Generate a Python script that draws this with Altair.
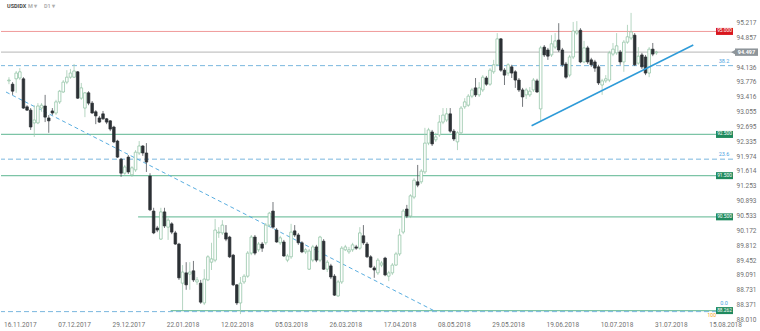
import altair as alt
import pandas as pd

# ---------------- data (USDIDX, D1) ----------------
opens = [
    93.80, 93.72, 93.85, 93.87, 93.85, 93.17, 93.09, 92.78, 92.78, 93.14,
    93.19, 92.90, 93.07, 93.02, 93.29, 93.53, 93.77, 93.89, 93.89, 94.02,
    93.38, 93.14, 93.51, 93.26, 93.05, 92.90, 93.00, 92.88, 92.83, 92.68,
    92.34, 91.90, 91.56, 91.95, 91.52, 91.64, 92.05, 92.22, 92.05, 91.49,
    90.64, 90.23, 89.96, 90.62, 90.25, 90.33, 90.11, 89.84, 88.89, 89.14,
    89.11, 89.19, 88.92, 88.89, 88.41, 88.97, 89.40, 89.45, 90.11, 90.11,
    90.11, 90.01, 89.57, 88.85, 88.41, 88.92, 89.06, 89.62, 90.01, 89.70,
    89.84, 89.87, 90.30, 90.64, 90.18, 89.87, 89.89, 89.45, 89.53, 90.16,
    90.06, 89.87, 89.65, 89.23, 89.45, 89.77, 89.45, 89.91, 89.23, 89.31,
    89.06, 88.58, 88.92, 89.70, 89.65, 89.70, 89.77, 89.74, 90.04, 89.84,
    89.53, 89.26, 89.14, 89.33, 89.50, 89.06, 89.14, 89.33, 89.60, 90.13,
    90.69, 90.52, 90.98, 91.35, 91.35, 91.59, 92.29, 92.56, 92.37, 92.49,
    92.80, 92.85, 93.00, 92.58, 92.32, 92.54, 93.17, 93.21, 93.43, 93.63,
    93.46, 93.58, 93.87, 93.72, 94.02, 94.19, 94.82, 94.06, 93.99, 94.14,
    94.02, 93.82, 93.58, 93.46, 93.46, 93.58, 93.80, 93.12, 94.62, 94.55,
    94.43, 94.62, 94.79, 94.55, 94.21, 93.94, 94.38, 94.96, 95.03, 94.26,
    94.60, 94.31, 94.26, 94.14, 93.70, 93.80, 93.82, 94.45, 94.48, 94.50,
    94.26, 94.74, 94.84, 94.91, 94.23, 94.43, 94.38, 93.99, 94.57, 94.48,
]
highs = [
    93.89, 93.77, 94.04, 94.11, 93.89, 93.21, 93.14, 93.21, 93.26, 93.26,
    93.46, 92.97, 93.14, 93.34, 93.58, 93.82, 94.06, 94.09, 94.21, 94.04,
    93.75, 93.53, 93.55, 93.31, 93.09, 92.95, 93.07, 92.90, 92.85, 92.71,
    92.37, 91.93, 91.76, 92.00, 91.73, 92.12, 92.34, 92.24, 92.29, 91.56,
    90.72, 90.28, 90.72, 90.72, 90.47, 90.37, 90.16, 89.87, 89.33, 89.40,
    89.40, 89.43, 89.04, 88.97, 89.23, 89.57, 89.87, 90.45, 90.25, 90.42,
    90.30, 90.04, 89.60, 88.87, 89.04, 89.11, 89.67, 90.06, 90.06, 89.89,
    89.89, 90.35, 90.62, 90.86, 90.23, 90.04, 89.94, 89.60, 90.33, 90.30,
    90.11, 89.91, 89.74, 89.72, 89.82, 89.82, 90.04, 89.96, 89.45, 89.36,
    89.11, 88.97, 89.79, 89.82, 89.77, 89.87, 89.82, 90.25, 90.30, 89.89,
    89.57, 89.31, 89.50, 89.43, 89.53, 89.19, 89.38, 89.65, 90.21, 90.69,
    90.79, 91.05, 91.44, 91.76, 91.66, 92.66, 92.66, 92.61, 92.54, 92.97,
    93.14, 93.14, 93.14, 92.63, 92.58, 93.19, 93.38, 93.48, 93.63, 93.87,
    93.77, 93.94, 93.92, 94.11, 94.31, 94.96, 94.84, 94.11, 94.23, 94.19,
    94.06, 93.87, 93.63, 93.63, 93.65, 93.87, 93.85, 94.65, 94.67, 94.60,
    94.91, 94.96, 95.20, 94.60, 94.26, 94.43, 95.23, 95.25, 95.08, 94.77,
    94.65, 94.36, 94.31, 94.19, 93.85, 93.94, 94.53, 94.72, 94.96, 94.55,
    94.79, 95.16, 95.45, 94.96, 94.62, 94.48, 94.43, 94.62, 94.72, 94.53,
]
lows = [
    93.72, 93.46, 93.51, 93.82, 93.12, 93.07, 92.61, 92.44, 92.75, 93.05,
    92.80, 92.54, 92.97, 92.97, 93.24, 93.51, 93.72, 93.85, 93.87, 93.36,
    93.34, 92.92, 93.21, 93.00, 92.75, 92.78, 92.85, 92.75, 92.58, 92.29,
    91.93, 91.47, 91.52, 91.54, 91.47, 91.59, 92.00, 91.98, 91.59, 90.64,
    90.08, 90.13, 89.94, 90.23, 89.94, 90.08, 89.82, 88.97, 88.24, 88.73,
    88.73, 88.92, 88.85, 88.39, 88.36, 88.94, 89.21, 89.40, 89.99, 90.06,
    89.91, 89.50, 88.82, 88.36, 88.14, 88.87, 89.02, 89.57, 89.57, 89.65,
    89.65, 89.82, 90.25, 90.21, 89.87, 89.82, 89.53, 89.40, 89.48, 90.01,
    89.82, 89.62, 89.60, 89.21, 89.40, 89.40, 89.40, 89.21, 89.16, 88.99,
    88.58, 88.56, 88.87, 89.67, 89.60, 89.65, 89.70, 89.70, 89.82, 89.50,
    89.26, 89.02, 89.09, 89.28, 89.06, 88.94, 89.09, 89.31, 89.55, 90.08,
    90.47, 90.47, 90.93, 91.22, 91.30, 91.54, 92.24, 92.22, 92.32, 92.44,
    92.75, 92.80, 92.54, 92.34, 92.12, 92.49, 93.12, 93.17, 93.38, 93.41,
    93.41, 93.53, 93.68, 93.68, 93.97, 94.16, 94.02, 93.70, 93.92, 93.87,
    93.63, 93.53, 93.17, 93.36, 93.41, 93.53, 93.51, 92.80, 94.38, 94.31,
    94.38, 94.57, 94.50, 94.14, 93.85, 93.89, 94.33, 94.91, 94.23, 94.23,
    94.21, 94.14, 94.02, 93.70, 93.46, 93.75, 93.77, 94.40, 94.43, 94.19,
    94.02, 94.70, 94.79, 94.16, 94.19, 94.09, 93.94, 93.89, 94.40, 94.43,
]
closes = [
    93.82, 93.55, 93.99, 94.02, 93.14, 93.09, 92.68, 92.85, 93.19, 93.21,
    92.92, 92.83, 93.02, 93.29, 93.55, 93.77, 93.89, 93.99, 94.04, 93.38,
    93.63, 93.51, 93.26, 93.02, 92.95, 92.80, 92.88, 92.80, 92.63, 92.32,
    91.95, 91.56, 91.71, 91.59, 91.69, 92.07, 92.22, 92.05, 91.83, 90.67,
    90.11, 90.18, 90.62, 90.28, 90.42, 90.13, 89.84, 89.02, 89.16, 88.85,
    89.16, 88.97, 88.97, 88.43, 88.99, 89.53, 89.48, 90.18, 90.13, 90.30,
    89.96, 89.53, 88.85, 88.41, 88.89, 89.06, 89.62, 90.01, 89.62, 89.84,
    89.74, 90.30, 90.59, 90.25, 89.89, 89.99, 89.55, 89.55, 90.13, 90.06,
    89.87, 89.65, 89.70, 89.67, 89.77, 89.45, 90.01, 89.23, 89.40, 89.04,
    88.60, 88.92, 89.74, 89.77, 89.70, 89.82, 89.74, 90.11, 89.87, 89.53,
    89.28, 89.21, 89.45, 89.38, 89.09, 89.14, 89.33, 89.60, 90.06, 90.64,
    90.52, 91.01, 91.39, 91.27, 91.61, 92.29, 92.61, 92.27, 92.44, 92.80,
    92.97, 93.00, 92.58, 92.39, 92.54, 93.14, 93.29, 93.43, 93.58, 93.46,
    93.63, 93.89, 93.72, 94.06, 94.19, 94.82, 94.06, 93.94, 94.19, 93.99,
    93.82, 93.58, 93.41, 93.58, 93.55, 93.82, 93.53, 94.60, 94.43, 94.40,
    94.70, 94.77, 94.55, 94.19, 93.89, 94.38, 95.01, 95.01, 94.26, 94.60,
    94.26, 94.19, 94.11, 93.75, 93.80, 93.85, 94.48, 94.57, 94.65, 94.26,
    94.74, 94.87, 94.99, 94.19, 94.40, 94.14, 93.99, 94.57, 94.45, 94.50,
]

date_labels = ["16.11.2017", "07.12.2017", "29.12.2017", "22.01.2018", "12.02.2018",
               "05.03.2018", "26.03.2018", "17.04.2018", "08.05.2018", "29.05.2018",
               "19.06.2018", "10.07.2018", "31.07.2018", "15.08.2018"]
date_label_idx = [3, 18, 33, 48, 63, 78, 93, 108, 123, 138, 153, 168, 183, 198]

price_ticks = [88.010, 88.371, 88.731, 89.091, 89.452, 89.812, 90.172, 90.533,
               90.893, 91.253, 91.614, 91.974, 92.335, 92.695, 93.055, 93.416,
               93.776, 94.136, 94.857, 95.217]

# horizontal levels spanning the whole chart
full_prices = [95.000, 94.497, 92.500, 91.500]
full_colors = ["#f09a9a", "#c4c4c4", "#7cc4a6", "#7cc4a6"]
full_widths = [1.0, 1.3, 1.2, 1.2]
# levels that start later in time
part_prices = [90.500, 88.225]
part_start = [35.7, 44.7]
# fibonacci levels
fib_prices = [94.17, 91.90, 88.20]
fib_labels = ["38.2", "23.6", "0.0"]
# price tags on the right
tag_prices = [95.000, 92.500, 91.500, 90.500, 88.225]
tag_texts = ["95.000", "92.500", "91.500", "90.500", "88.262"]
tag_colors = ["#d9171e", "#1f8a5e", "#1f8a5e", "#1f8a5e", "#1f8a5e"]
last_price = 94.497
# trend lines
down_idx = [-0.82, 117.8]
down_price = [93.53, 88.21]
up_idx = [144.5, 189.2]
up_price = [92.71, 94.67]

# ---------------- chart ----------------
X_DOM = [-0.82, 198.8]
Y_DOM = [87.948, 95.763]
W, H = 732, 322
FONT = "Roboto"

xs = alt.Scale(domain=X_DOM, nice=False, zero=False)
ys = alt.Scale(domain=Y_DOM, nice=False, zero=False)

label_js = "[" + ",".join("'" + d + "'" for d in date_labels) + "]"
x_axis = alt.Axis(values=date_label_idx,
                  labelExpr=label_js + "[round((datum.value-3)/15)]",
                  domain=False, ticks=False, grid=False, title=None,
                  labelFontSize=6.5, labelColor="#707070", labelFont=FONT,
                  labelPadding=1, offset=-2, labelFlush=False, labelOverlap=False)
y_axis = alt.Axis(orient="right", values=price_ticks, format=".3f",
                  domain=False, ticks=False, grid=False, title=None,
                  labelFontSize=6.5, labelColor="#707070", labelFont=FONT,
                  labelPadding=3, labelFlush=False, labelOverlap=False)


def X(field):
    return alt.X(field, scale=xs, axis=x_axis)


def Y(field):
    return alt.Y(field, scale=ys, axis=y_axis)


n = len(opens)
candles = pd.DataFrame({"i": list(range(n)), "open": opens, "high": highs,
                        "low": lows, "close": closes})
up_cond = alt.datum.close >= alt.datum.open

full_df = pd.DataFrame({"price": full_prices, "color": full_colors, "w": full_widths})
full_rules = alt.Chart(full_df).mark_rule().encode(
    y=Y("price:Q"),
    color=alt.Color("color:N", scale=None),
    strokeWidth=alt.StrokeWidth("w:Q", scale=None),
)

part_df = pd.DataFrame({"price": part_prices, "start": part_start,
                        "end": [X_DOM[1]] * len(part_prices)})
part_rules = alt.Chart(part_df).mark_rule(color="#7cc4a6", strokeWidth=1.2).encode(
    x=X("start:Q"), x2="end:Q", y=Y("price:Q"),
)

fib_df = pd.DataFrame({"price": fib_prices, "label": fib_labels,
                       "dy": [-5, -5, -8]})
fib_rules = alt.Chart(fib_df).mark_rule(color="#7ab7de", strokeWidth=1,
                                        strokeDash=[5, 3]).encode(y=Y("price:Q"))
fib_text = alt.Chart(fib_df).transform_calculate(
    ylab="datum.price + (datum.label == '0.0' ? 0.2 : 0.12)"
).mark_text(fontSize=5.5, color="#4aa3df", font=FONT, align="center").encode(
    x=alt.value(723), y=Y("ylab:Q"), text="label:N",
)
orange_text = alt.Chart(pd.DataFrame({"price": [fib_prices[2]], "t": ["100"]})).mark_text(
    fontSize=5, color="#f5a623", font=FONT, dy=3, align="right").encode(
    x=alt.value(715), y=Y("price:Q"), text="t:N")

down_df = pd.DataFrame({"i": down_idx, "price": down_price})
down_line = alt.Chart(down_df).mark_line(color="#5aaee0", strokeWidth=1,
                                         strokeDash=[4, 3]).encode(
    x=X("i:Q"), y=Y("price:Q"))

up_df = pd.DataFrame({"i": up_idx, "price": up_price})
up_line = alt.Chart(up_df).mark_line(color="#2f9bd8", strokeWidth=1.5).encode(
    x=X("i:Q"), y=Y("price:Q"))

wicks = alt.Chart(candles).mark_rule(strokeWidth=0.8).encode(
    x=X("i:Q"), y=Y("low:Q"), y2="high:Q",
    color=alt.condition(up_cond, alt.value("#a3cbb3"), alt.value("#50565a")),
)
bodies = alt.Chart(candles).mark_bar(size=2.6, strokeWidth=0.7).encode(
    x=X("i:Q"), y=Y("open:Q"), y2="close:Q",
    fill=alt.condition(up_cond, alt.value("#ffffff"), alt.value("#2c3135")),
    stroke=alt.condition(up_cond, alt.value("#88bf9e"), alt.value("#2c3135")),
)

tag_df = pd.DataFrame({"price": tag_prices, "text": tag_texts, "color": tag_colors})
tag_rects = alt.Chart(tag_df).transform_calculate(
    lo="datum.price - 0.085", hi="datum.price + 0.085"
).mark_rect().encode(
    x=alt.value(715), x2=alt.value(732),
    y=Y("lo:Q"), y2="hi:Q",
    color=alt.Color("color:N", scale=None),
)
tag_text = alt.Chart(tag_df).mark_text(fontSize=4.8, color="white", font=FONT,
                                       baseline="middle").encode(
    x=alt.value(723.5), y=Y("price:Q"), text="text:N")

last_df = pd.DataFrame({"price": [last_price], "text": [f"{last_price:.3f}"]})
last_rect = alt.Chart(last_df).transform_calculate(
    lo="datum.price - 0.09", hi="datum.price + 0.09"
).mark_rect(color="#8e959a").encode(
    x=alt.value(734), x2=alt.value(757), y=Y("lo:Q"), y2="hi:Q")
last_arrow = alt.Chart(last_df).mark_point(shape="triangle-left", filled=True,
                                           size=28, color="#8e959a", opacity=1).encode(
    x=alt.value(732.5), y=Y("price:Q"))
last_text = alt.Chart(last_df).mark_text(fontSize=5.5, color="white", font=FONT,
                                         fontWeight="bold", baseline="middle").encode(
    x=alt.value(745.5), y=Y("price:Q"), text="text:N")

header_items = [("USDIDX", "#4a4a4a", 6), ("M  \u25be", "#b0b0b0", 27),
                ("D1  \u25be", "#b0b0b0", 43)]
header_layers = []
for txt, col, px in header_items:
    header_layers.append(
        alt.Chart(pd.DataFrame({"t": [txt]})).mark_text(
            fontSize=5.5, font=FONT, fontWeight="bold", align="left",
            baseline="middle", color=col).encode(
            x=alt.value(px), y=alt.value(6), text="t:N"))

chart = alt.layer(
    full_rules, part_rules, fib_rules, down_line,
    wicks, bodies, up_line,
    tag_rects, tag_text, fib_text, orange_text,
    last_rect, last_arrow, last_text, *header_layers,
).properties(width=W, height=H, padding=0, background="white").configure_view(
    stroke=None
)

chart.save("out.html", embed_options={"renderer": "svg", "actions": False})
